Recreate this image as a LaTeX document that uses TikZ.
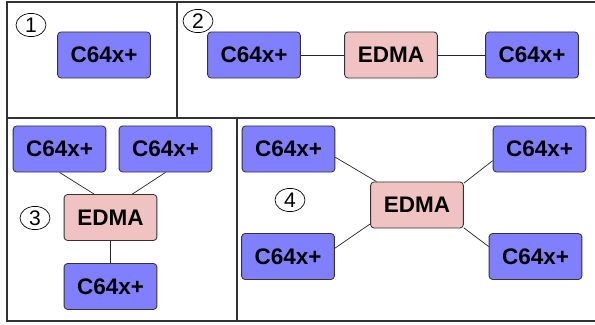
\documentclass[tikz,border=0pt]{standalone}
\usepackage{fontspec}
\setmainfont{Liberation Sans}
\usepackage{tikz}
\usetikzlibrary{shapes.geometric,positioning,calc}
\usepackage{xcolor}

\definecolor{dspblue}{RGB}{128,128,255}
\definecolor{edmapink}{RGB}{240,194,194}

\tikzset{
  dsp/.style={draw=black!80, line width=0.6pt, fill=dspblue, rounded corners=2.5pt,
    minimum width=2.32cm, minimum height=1.15cm, inner sep=0pt,
    font=\fontsize{16}{16}\selectfont\bfseries},
  edma/.style={dsp, fill=edmapink},
  num/.style={draw, ellipse, line width=0.5pt, minimum width=0.75cm, minimum height=0.58cm,
    inner sep=0pt, font=\fontsize{15}{15}\selectfont},
  link/.style={-, line width=0.5pt, black!85},
  cadre/.style={-, line width=1.1pt, black!80}
}

\begin{document}
\begin{tikzpicture}[x=0.025cm, y=-0.025cm]

\useasboundingbox (0,0) rectangle (595,324);

% cadre
\draw[cadre] (7,2) rectangle (600,321);
\draw[cadre] (7,118) -- (600,118);
\draw[cadre] (177,2) -- (177,118);
\draw[cadre] (237,118) -- (237,321);

% cas 1
\node[num] (n1) at (31,25) {1};
\node[dsp] (c1) at (104,55) {C64x+};

% cas 2
\node[num] (n2) at (198,21) {2};
\node[dsp] (c2a) at (254,55) {C64x+};
\node[edma] (e2) at (391,55) {EDMA};
\node[dsp] (c2b) at (532,55) {C64x+};
\draw[link] (c2a.east) -- (e2.west);
\draw[link] (e2.east) -- (c2b.west);

% cas 3
\node[num] (n3) at (35,218) {3};
\node[dsp] (c3a) at (59.5,149) {C64x+};
\node[dsp] (c3b) at (165.5,149) {C64x+};
\node[edma] (e3) at (110.5,217.5) {EDMA};
\node[dsp] (c3c) at (110.5,286.5) {C64x+};
\draw[link] (c3a.south) -- (e3.125);
\draw[link] (c3b.south) -- (e3.47);
\draw[link] (e3.south) -- (c3c.north);

% cas 4
\node[num] (n4) at (290,200) {4};
\node[dsp] (c4a) at (288.5,149) {C64x+};
\node[dsp] (c4b) at (539.5,149) {C64x+};
\node[edma] (e4) at (417,205) {EDMA};
\node[dsp] (c4c) at (288,256.5) {C64x+};
\node[dsp] (c4d) at (535.5,256.5) {C64x+};
\draw[link] (c4a.-10) -- (e4.150);
\draw[link] (c4b.194) -- (e4.25);
\draw[link] (c4c.10) -- (e4.202);
\draw[link] (c4d.168) -- (e4.334);

\end{tikzpicture}
\end{document}
